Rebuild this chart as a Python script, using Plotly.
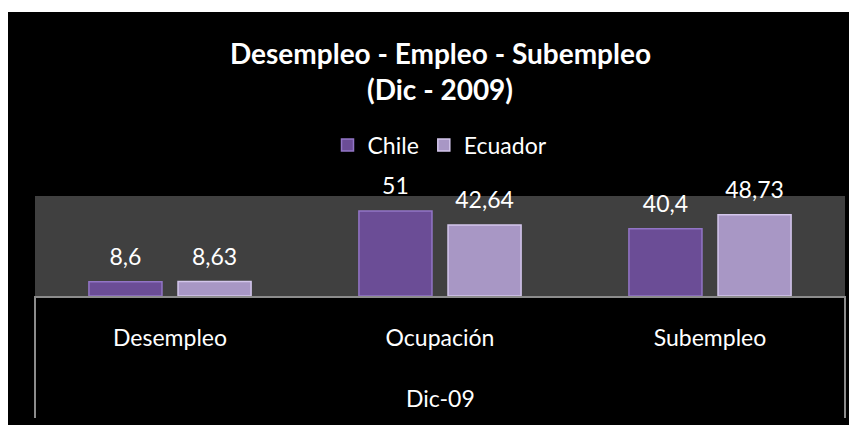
import plotly.graph_objects as go

period = "Dic-09"
categories = ["Desempleo", "Ocupación", "Subempleo"]
chile = [8.6, 51, 40.4]
ecuador = [8.63, 42.64, 48.73]
series_names = ["Chile", "Ecuador"]
title_lines = ["Desempleo - Empleo - Subempleo", "(Dic - 2009)"]

# page has an 8px body margin; the figure fills the rest of the 857x425 window
OFF = 8
W, H = 857 - OFF, 425 - OFF
L, R, T, B = 35 - OFF, 12, 196 - OFF, 129
FONT = "Lato, Carlito, Calibri, sans-serif"


def fmt(v):
    return f"{v:g}".replace(".", ",")


def py(p):  # reference pixel row -> paper y
    return (H - B - (p - OFF)) / (H - T - B)


def px(p):  # reference pixel column -> paper x
    return (p - OFF - L) / (W - L - R)


fig = go.Figure()
for name, vals, col, edge in [
    (series_names[0], chile, "#6B4D96", "#9275C6"),
    (series_names[1], ecuador, "#A897C5", "#D3C6EC"),
]:
    fig.add_trace(go.Bar(
        x=categories, y=vals, name=name,
        marker=dict(color=col, line=dict(color=edge, width=1.5)),
        text=[f"<span style='font-size:23px'>{fmt(v)}</span><br> " for v in vals],
        textposition="outside",
        textfont=dict(color="white", size=9, family=FONT),
        cliponaxis=False,
    ))

# white strip above the black chart area
fig.add_shape(type="rect", xref="paper", yref="paper",
              x0=px(0), x1=px(870), y0=py(12), y1=py(-5),
              fillcolor="white", line=dict(width=0), layer="below")

# vertical dividers framing the category labels
for xd in (0, 1):
    fig.add_shape(type="line", xref="paper", yref="paper",
                  x0=xd, x1=xd, y0=0, y1=py(418),
                  line=dict(color="#8C8C8C", width=2))

for line, ypix in zip(title_lines, [53, 89]):
    fig.add_annotation(text=f"<b>{line}</b>", xref="paper", yref="paper",
                       x=0.5, y=py(ypix), xanchor="center", yanchor="middle",
                       showarrow=False,
                       font=dict(color="white", size=28, family=FONT))

fig.add_annotation(text=period, xref="paper", yref="paper",
                   x=0.5, y=py(398), xanchor="center", yanchor="middle",
                   showarrow=False, font=dict(color="white", size=23, family=FONT))

fig.update_layout(
    width=W, height=H,
    margin=dict(l=L, r=R, t=T, b=B, pad=0),
    paper_bgcolor="black",
    plot_bgcolor="#404040",
    barmode="group", bargap=0.34, bargroupgap=0.18,
    showlegend=True,
    legend=dict(orientation="h", x=0.5, xanchor="center", y=py(145), yanchor="middle",
                font=dict(color="white", size=23, family=FONT),
                bgcolor="rgba(0,0,0,0)", itemclick=False),
    xaxis=dict(type="category", showline=True, linecolor="#8C8C8C", linewidth=2,
               tickfont=dict(color="white", size=23, family=FONT),
               ticks="", showgrid=False, ticklabelstandoff=20),
    yaxis=dict(range=[0, 60], visible=False, showgrid=False, zeroline=False),
    font=dict(family=FONT, color="white"),
)

fig.write_html(
    "out.html",
    post_script="document.documentElement.style.overflow='hidden';"
                "document.body.style.overflow='hidden';",
)
